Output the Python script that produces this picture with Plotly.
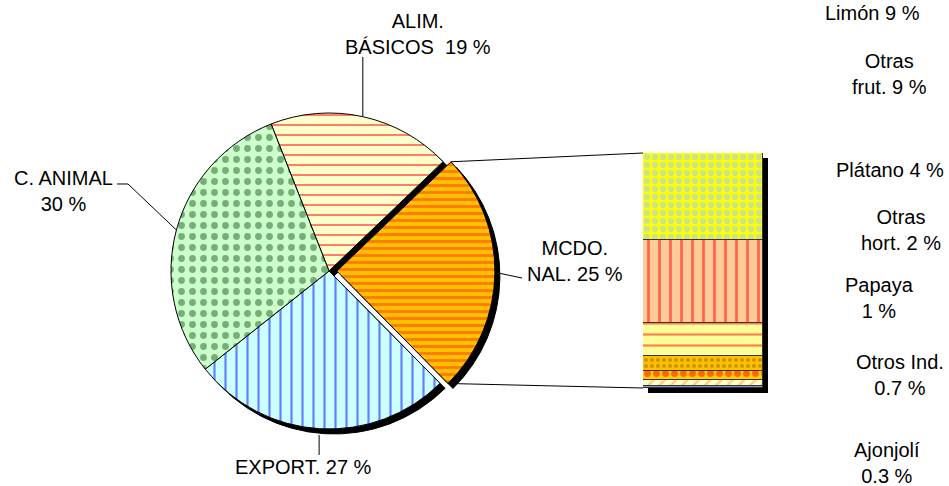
import math
import plotly.graph_objects as go

# ---------------- data ----------------
pie_categories = ["ALIM. BÁSICOS", "MCDO. NAL.", "EXPORT.", "C. ANIMAL"]
pie_values = [19, 25, 27, 30]
pie_label_text = ["ALIM.<br>BÁSICOS  19 %", "MCDO.<br>NAL. 25 %", "EXPORT. 27 %", "C. ANIMAL<br>30 %"]

bar_categories = ["Limón", "Otras frut.", "Plátano", "Otras hort.", "Papaya", "Otros Ind.", "Ajonjolí"]
bar_values = [9.3, 8.8, 3.5, 1.6, 1.0, 0.6, 0.2]
bar_label_text = ["Limón 9 %", "Otras<br>frut. 9 %", "Plátano 4 %", "Otras<br>hort. 2 %",
                  "Papaya<br>1 %", "Otros Ind.<br>0.7 %", "Ajonjolí<br>0.3 %"]

# ---------------- styles / layout constants ----------------
W, H = 949, 486
FONT = dict(family="Liberation Sans, Arial, sans-serif", size=20, color="black")

PIE_CX, PIE_CY, PIE_R = 329, 271, 158
PULL = 0.05
PIE_ROT = -21.5
SHADOW = 5
pie_pull = [0, PULL, 0, 0]
pie_bg = ["#FFFFCC", "#FFC000", "#CCFFFF", "#CCFFCC"]
pie_fg = ["#FF0000", "#FF3300", "#0000FF", "#1F5F1F"]
pie_shape = ["-", "-", "|", "."]
pie_psize = [10, 7, 11, 11]
pie_solid = [0.2, 0.4, 0.2, 0.3]

BAR_X0, BAR_X1, BAR_TOP, BAR_BOT = 643, 763, 153, 388
bar_bg = ["#FFFF00", "#FFCC99", "#FFFF99", "#FFC000", "#FFCC00", "#FFFFCC", "#CCFFCC"]
bar_fg = ["#99CCFF", "#FF0000", "#FF0000", "#996600", "#FF0000", "#FF9933", "#0000FF"]
bar_shape = [".", "|", "-", ".", ".", "/", "-"]
bar_psize = [8, 11, 11, 6, 9, 8, 4]
bar_solid = [0.5, 0.25, 0.2, 0.35, 0.45, 0.3, 0.4]

pie_label_pos = [(418, 34), (575, 261), (303, 467), (64, 191)]
bar_label_pos = [(872, 13), (889, 74), (890, 170), (901, 230), (879, 298), (900, 375), (887, 463)]


def px2paper(x, y):
    return x / W, 1 - y / H


# ---------------- pie geometry ----------------
half = PIE_R * (1 + PULL)
dom_x = [(PIE_CX - half) / W, (PIE_CX + half) / W]
dom_y = [1 - (PIE_CY + half) / H, 1 - (PIE_CY - half) / H]
sdom_x = [dom_x[0] + SHADOW / W, dom_x[1] + SHADOW / W]
sdom_y = [dom_y[0] - SHADOW / H, dom_y[1] - SHADOW / H]

total = sum(pie_values)
starts, ends = [], []
acc = 0.0
for v in pie_values:
    starts.append(PIE_ROT + acc / total * 360)
    acc += v
    ends.append(PIE_ROT + acc / total * 360)


def pie_point(i, a_deg, rfac=1.0):
    mid = math.radians((starts[i] + ends[i]) / 2)
    cx = PIE_CX + pie_pull[i] * PIE_R * math.sin(mid)
    cy = PIE_CY - pie_pull[i] * PIE_R * math.cos(mid)
    a = math.radians(a_deg)
    return cx + PIE_R * rfac * math.sin(a), cy - PIE_R * rfac * math.cos(a)


fig = go.Figure()

# pie shadow
fig.add_trace(go.Pie(
    labels=pie_categories, values=pie_values, sort=False, direction="clockwise",
    rotation=PIE_ROT, pull=pie_pull, textinfo="none", hoverinfo="skip",
    marker=dict(colors=["black"] * 4, line=dict(color="black", width=1)),
    domain=dict(x=sdom_x, y=sdom_y), showlegend=False,
))
# pie
fig.add_trace(go.Pie(
    labels=pie_categories, values=pie_values, sort=False, direction="clockwise",
    rotation=PIE_ROT, pull=pie_pull, textinfo="none",
    marker=dict(colors=pie_bg, line=dict(color="black", width=1),
                pattern=dict(shape=pie_shape, fgcolor=pie_fg, bgcolor=pie_bg,
                             size=pie_psize, solidity=pie_solid, fillmode="overlay")),
    domain=dict(x=dom_x, y=dom_y), showlegend=False,
))

# ---------------- bar ----------------
bar_total = sum(bar_values)
bx = [BAR_X0 / W, BAR_X1 / W]
by = [1 - BAR_BOT / H, 1 - BAR_TOP / H]

# bar shadow on first axes (drawn below)
fig.add_trace(go.Bar(x=[0], y=[bar_total], marker=dict(color="black", line=dict(width=0)),
                     xaxis="x", yaxis="y", showlegend=False, hoverinfo="skip"))
for i in reversed(range(len(bar_values))):
    fig.add_trace(go.Bar(
        x=[0], y=[bar_values[i]], name=bar_categories[i], xaxis="x2", yaxis="y2",
        marker=dict(color=bar_bg[i], line=dict(color="#333333", width=1),
                    pattern=dict(shape=bar_shape[i], fgcolor=bar_fg[i], bgcolor=bar_bg[i],
                                 size=bar_psize[i], solidity=bar_solid[i], fillmode="overlay")),
        showlegend=False,
    ))

ax_common = dict(visible=False, fixedrange=True)
fig.update_layout(
    xaxis=dict(domain=[bx[0] + SHADOW / W, bx[1] + SHADOW / W], range=[-0.5, 0.5], **ax_common),
    yaxis=dict(domain=[by[0] - SHADOW / H, by[1] - SHADOW / H], range=[0, bar_total], **ax_common),
    xaxis2=dict(domain=bx, range=[-0.5, 0.5], anchor="y2", **ax_common),
    yaxis2=dict(domain=by, range=[0, bar_total], anchor="x2", **ax_common),
    barmode="stack", bargap=0,
    width=W, height=H, margin=dict(l=0, r=0, t=0, b=0),
    paper_bgcolor="white", plot_bgcolor="rgba(0,0,0,0)", font=FONT,
)

# ---------------- connector lines (pie -> bar) ----------------
shapes = []
tx, ty = pie_point(1, starts[1])
bxx, byy = pie_point(1, ends[1])
for (x0, y0), (x1, y1) in [((tx, ty), (BAR_X0, BAR_TOP)), ((bxx, byy), (BAR_X0, BAR_BOT))]:
    p0 = px2paper(x0, y0)
    p1 = px2paper(x1, y1)
    shapes.append(dict(type="line", xref="paper", yref="paper", x0=p0[0], y0=p0[1],
                       x1=p1[0], y1=p1[1], line=dict(color="black", width=1)))

# ---------------- leader lines ----------------
mids = [(s + e) / 2 for s, e in zip(starts, ends)]
a0 = pie_point(0, mids[0])
a1 = pie_point(1, mids[1], 1.03)
a2 = pie_point(2, mids[2], 1.04)
a3 = pie_point(3, mids[3])
leaders = [
    [(a0[0], 57), a0],
    [a1, (522, 278)],
    [a2, (a2[0], 455)],
    [(117, 184), (128, 184), a3],
]
for pts in leaders:
    path = ""
    for k, (x, y) in enumerate(pts):
        p = px2paper(x, y)
        path += ("M" if k == 0 else "L") + f"{p[0]:.5f},{p[1]:.5f} "
    shapes.append(dict(type="path", xref="paper", yref="paper", path=path,
                       line=dict(color="black", width=1)))

annotations = []
for txt, (x, y) in zip(pie_label_text + bar_label_text, pie_label_pos + bar_label_pos):
    p = px2paper(x, y)
    annotations.append(dict(text=txt, x=p[0], y=p[1], xref="paper", yref="paper",
                            xanchor="center", yanchor="middle", showarrow=False,
                            align="center", font=FONT))

fig.update_layout(shapes=shapes, annotations=annotations)
fig.write_html("out.html")
